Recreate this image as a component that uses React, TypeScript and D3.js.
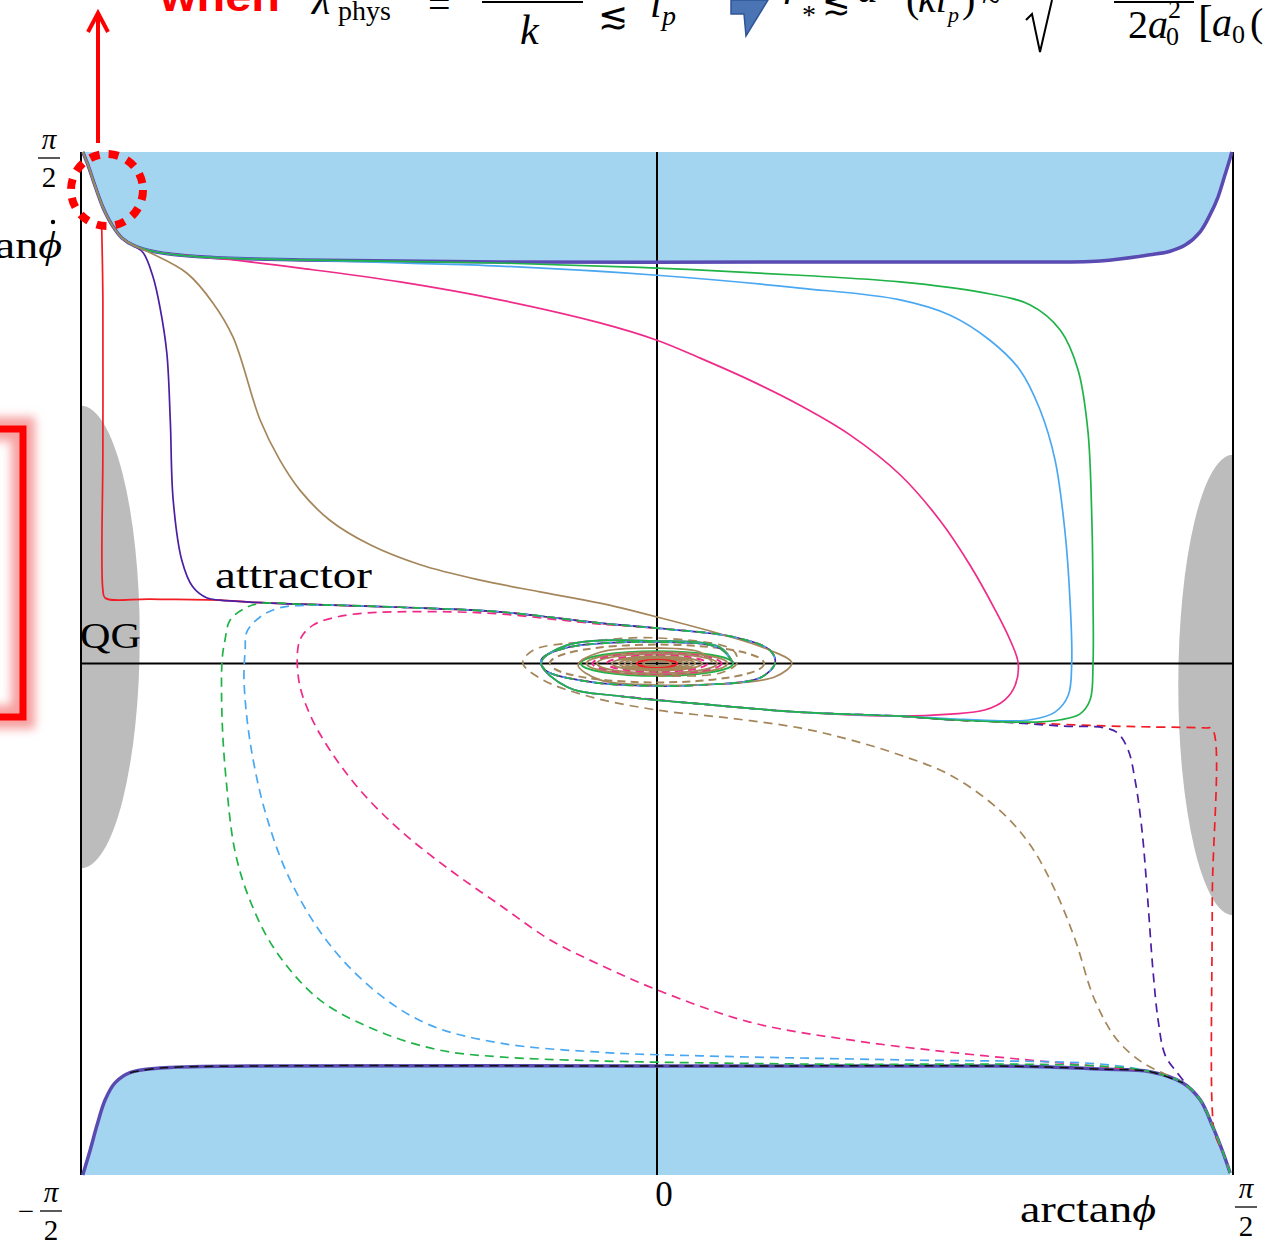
import React, { useEffect, useRef } from 'react'
import * as d3 from 'd3'

type Pt = [number, number]

// phase plane: x = arctan(phi), y = arctan(dphi), both in units of pi/2
const tickValues = [-1, 0, 1]

// boundary of the shaded (blue) regions
const topEdge: Pt[] = [
  [-0.997, 1.0], [-0.988, 0.975], [-0.976, 0.935], [-0.962, 0.892], [-0.946, 0.857],
  [-0.929, 0.832], [-0.906, 0.816], [-0.872, 0.805], [-0.793, 0.795], [-0.62, 0.789],
  [-0.273, 0.785], [0.248, 0.785], [0.595, 0.785], [0.769, 0.787], [0.856, 0.799],
  [0.891, 0.806], [0.917, 0.818], [0.943, 0.844], [0.96, 0.877], [0.974, 0.912],
  [0.986, 0.955], [0.995, 0.988], [0.998, 1.0]
]
const bottomEdge: Pt[] = [
  [-0.997, -1.0], [-0.984, -0.951], [-0.972, -0.902], [-0.958, -0.853], [-0.941, -0.82],
  [-0.915, -0.8], [-0.863, -0.791], [-0.707, -0.787], [0, -0.787], [0.595, -0.787],
  [0.682, -0.789], [0.769, -0.793], [0.856, -0.798], [0.913, -0.82], [0.943, -0.853],
  [0.965, -0.906], [0.983, -0.957], [0.995, -0.996]
]

// shared pieces of the trajectories
const attractor: Pt[] = [
  [-0.707, 0.12], [-0.62, 0.116], [-0.446, 0.11], [-0.273, 0.101], [-0.099, 0.079],
  [0, 0.069], [0.132, 0.052], [0.196, 0.026], [0.205, 0.001], [0.179, -0.028],
  [0.075, -0.042], [0, -0.044], [-0.116, -0.036], [-0.194, -0.013], [-0.201, 0.007],
  [-0.16, 0.03], [0, 0.042], [0.109, 0.03], [0.132, 0.001]
]
const lowerBundle: Pt[] = [
  [0.422, -0.103], [0.248, -0.095], [0.075, -0.079], [-0.064, -0.064], [-0.156, -0.046],
  [-0.201, 0.001], [-0.156, 0.036], [0, 0.044], [0.109, 0.032], [0.132, 0.001]
]
const bottomCorner: Pt[] = [[0.995, -0.996], [0.983, -0.957], [0.965, -0.906], [0.943, -0.853]]

// solid trajectories (from the upper left)
const redSolid: Pt[] = [
  [-0.964, 0.851], [-0.962, 0.711], [-0.962, 0.417], [-0.962, 0.144], [-0.958, 0.128],
  [-0.88, 0.126], [-0.759, 0.124], ...attractor.slice(0, 6)
]
const purpleSolid: Pt[] = [
  ...topEdge.slice(0, 6), [-0.91, 0.818], [-0.892, 0.803], [-0.875, 0.756], [-0.863, 0.697],
  [-0.851, 0.607], [-0.845, 0.476], [-0.84, 0.32], [-0.825, 0.202], [-0.806, 0.15],
  [-0.781, 0.128], [-0.759, 0.124], ...attractor
]
const brownSolid: Pt[] = [
  ...topEdge.slice(0, 7), [-0.88, 0.803], [-0.816, 0.763], [-0.771, 0.705], [-0.736, 0.638],
  [-0.689, 0.476], [-0.655, 0.398], [-0.62, 0.339], [-0.568, 0.28], [-0.498, 0.232],
  [-0.411, 0.193], [-0.307, 0.163], [-0.203, 0.14], [-0.099, 0.118], [0, 0.091],
  [0.109, 0.058], [0.196, 0.026], [0.234, 0.001], [0.205, -0.026], [0.109, -0.04],
  [0, -0.042], [-0.099, -0.032], [-0.137, -0.003], [-0.099, 0.022], [0, 0.03],
  [0.075, 0.022], [0.097, 0.001]
]
const pinkSolid: Pt[] = [
  ...topEdge.slice(0, 9), [-0.736, 0.789], [-0.62, 0.773], [-0.446, 0.746], [-0.273, 0.711],
  [-0.099, 0.666], [0, 0.632], [0.075, 0.597], [0.161, 0.554], [0.248, 0.505],
  [0.335, 0.447], [0.422, 0.369], [0.491, 0.28], [0.543, 0.193], [0.587, 0.105],
  [0.613, 0.046], [0.627, 0.001], [0.622, -0.042], [0.604, -0.071], [0.569, -0.091],
  [0.509, -0.099], ...lowerBundle
]
const blueSolid: Pt[] = [
  ...topEdge.slice(0, 10), [-0.446, 0.783], [-0.273, 0.777], [0, 0.759], [0.248, 0.734],
  [0.422, 0.711], [0.509, 0.681], [0.578, 0.632], [0.63, 0.574], [0.665, 0.496],
  [0.691, 0.398], [0.708, 0.261], [0.717, 0.124], [0.72, 0.001], [0.714, -0.062],
  [0.691, -0.095], [0.648, -0.11], [0.595, -0.112], [0.509, -0.108], ...lowerBundle
]
const greenSolid: Pt[] = [
  ...topEdge.slice(0, 10), [-0.273, 0.783], [0, 0.773], [0.248, 0.759], [0.422, 0.746],
  [0.561, 0.726], [0.648, 0.701], [0.7, 0.652], [0.731, 0.574], [0.748, 0.456],
  [0.755, 0.28], [0.757, 0.124], [0.757, 0.001], [0.752, -0.071], [0.734, -0.099],
  [0.7, -0.11], [0.665, -0.114], [0.595, -0.114], [0.509, -0.11], ...lowerBundle
]

// dashed trajectories (from the lower right)
const redDashed: Pt[] = [
  [0.995, -0.996], [0.983, -0.957], [0.969, -0.922], [0.964, -0.873], [0.964, -0.462],
  [0.964, -0.128], [0.951, -0.126], [0.856, -0.124], [0.778, -0.122], [0.682, -0.118],
  [0.595, -0.114], [0.509, -0.11], ...lowerBundle.slice(0, 4)
]
const purpleDashed: Pt[] = [
  ...bottomCorner, [0.925, -0.83], [0.903, -0.8], [0.882, -0.765], [0.87, -0.697],
  [0.861, -0.599], [0.852, -0.462], [0.842, -0.326], [0.83, -0.228], [0.818, -0.169],
  [0.8, -0.136], [0.778, -0.126], [0.7, -0.122], [0.595, -0.114], [0.509, -0.11],
  ...lowerBundle.slice(0, 4)
]
const brownDashed: Pt[] = [
  ...bottomCorner, [0.913, -0.82], [0.885, -0.804], [0.844, -0.781], [0.799, -0.736],
  [0.76, -0.658], [0.726, -0.54], [0.691, -0.443], [0.648, -0.355], [0.595, -0.287],
  [0.509, -0.218], [0.422, -0.179], [0.335, -0.149], [0.248, -0.126], [0.127, -0.107],
  [0, -0.091], [-0.116, -0.065], [-0.198, -0.032], [-0.233, 0.001], [-0.215, 0.026],
  [-0.128, 0.042], [0, 0.05], [0.132, 0.026], [0.139, 0.001], [0.109, -0.019], [0, -0.024]
]
const pinkDashed: Pt[] = [
  ...bottomCorner, [0.913, -0.82], [0.856, -0.798], [0.799, -0.791], [0.682, -0.779],
  [0.509, -0.76], [0.335, -0.736], [0.161, -0.701], [0, -0.638], [-0.099, -0.589],
  [-0.186, -0.54], [-0.273, -0.472], [-0.359, -0.404], [-0.446, -0.326], [-0.516, -0.247],
  [-0.568, -0.169], [-0.602, -0.101], [-0.622, -0.032], [-0.62, 0.046], [-0.597, 0.075],
  [-0.556, 0.091], [-0.503, 0.099], [-0.451, 0.101], [-0.359, 0.101], [-0.273, 0.097],
  [-0.168, 0.085], [-0.099, 0.077], ...attractor.slice(5)
]
const blueDashed: Pt[] = [
  ...bottomCorner, [0.913, -0.82], [0.856, -0.798], [0.769, -0.783], [0.422, -0.775],
  [0.075, -0.767], [-0.099, -0.76], [-0.273, -0.742], [-0.394, -0.707], [-0.481, -0.648],
  [-0.568, -0.55], [-0.637, -0.423], [-0.681, -0.287], [-0.707, -0.149], [-0.717, -0.032],
  [-0.715, 0.026], [-0.712, 0.062], [-0.689, 0.091], [-0.655, 0.109], [-0.597, 0.114],
  ...attractor.slice(2)
]
const greenDashed: Pt[] = [
  ...bottomCorner, [0.913, -0.82], [0.856, -0.798], [0.769, -0.787], [0.248, -0.783],
  [-0.099, -0.777], [-0.273, -0.769], [-0.377, -0.756], [-0.481, -0.72], [-0.585, -0.658],
  [-0.663, -0.56], [-0.707, -0.462], [-0.733, -0.365], [-0.748, -0.228], [-0.755, -0.11],
  [-0.755, 0.007], [-0.75, 0.046], [-0.741, 0.085], [-0.712, 0.11], [-0.684, 0.118],
  ...attractor.slice(1)
]

const C = {
  red: '#f21c24',
  purple: '#4b1ea3',
  brown: '#a4865a',
  pink: '#ef2a88',
  blue: '#4aa8f2',
  green: '#1fb347',
  fill: '#a4d5f0',
  edge: '#5a4bb3',
  grey: '#bcbcbc'
}

// drawing order: later entries lie on top
const trajectories = [
  { pts: redSolid, color: C.red, dashed: false },
  { pts: purpleSolid, color: C.purple, dashed: false },
  { pts: redDashed, color: C.red, dashed: true },
  { pts: purpleDashed, color: C.purple, dashed: true },
  { pts: brownDashed, color: C.brown, dashed: true },
  { pts: pinkSolid, color: C.pink, dashed: false },
  { pts: blueSolid, color: C.blue, dashed: false },
  { pts: greenSolid, color: C.green, dashed: false },
  { pts: brownSolid, color: C.brown, dashed: false },
  { pts: pinkDashed, color: C.pink, dashed: true },
  { pts: blueDashed, color: C.blue, dashed: true },
  { pts: greenDashed, color: C.green, dashed: true }
]

// loops of the spiral around the fixed point at the origin
const spiralRings = [
  { rx: 0.186, ry: 0.037, color: C.brown, dashed: true },
  { rx: 0.132, ry: 0.024, color: C.green, dashed: false },
  { rx: 0.122, ry: 0.022, color: C.brown, dashed: false },
  { rx: 0.112, ry: 0.02, color: C.pink, dashed: true },
  { rx: 0.104, ry: 0.019, color: C.brown, dashed: false },
  { rx: 0.087, ry: 0.016, color: C.pink, dashed: true },
  { rx: 0.078, ry: 0.014, color: C.brown, dashed: false },
  { rx: 0.066, ry: 0.012, color: C.brown, dashed: false },
  { rx: 0.056, ry: 0.01, color: C.brown, dashed: false },
  { rx: 0.045, ry: 0.009, color: C.brown, dashed: false },
  { rx: 0.035, ry: 0.007, color: C.red, dashed: false },
  { rx: 0.024, ry: 0.005, color: C.brown, dashed: false }
]

// quantum gravity regions (grey)
const qgRegions = [
  { cx: -1, cy: 0.052, rx: 0.102, ry: 0.452 },
  { cx: 1, cy: -0.042, rx: 0.095, ry: 0.45 }
]

const App: React.FC = () => {
  const svgRef = useRef<SVGSVGElement>(null)

  useEffect(() => {
    const svg = d3.select(svgRef.current)
    svg.selectAll('*').remove()

    const x = d3.scaleLinear().domain([-1, 1]).range([81, 1233])
    const y = d3.scaleLinear().domain([-1, 1]).range([1175, 152])
    const serif = "'Liberation Serif', 'DejaVu Serif', serif"

    const defs = svg.append('defs')
    defs.append('clipPath').attr('id', 'plot')
      .append('rect')
      .attr('x', x(-1)).attr('y', y(1))
      .attr('width', x(1) - x(-1)).attr('height', y(-1) - y(1))
    const glow = defs.append('filter').attr('id', 'glow')
      .attr('x', '-50%').attr('y', '-50%').attr('width', '200%').attr('height', '200%')
    glow.append('feGaussianBlur').attr('stdDeviation', 5)

    const line = d3.line<Pt>()
      .x(d => x(d[0]))
      .y(d => y(d[1]))
      .curve(d3.curveCatmullRom.alpha(0.5))

    // blue regions
    const topArea = d3.area<Pt>()
      .x(d => x(d[0])).y0(() => y(1)).y1(d => y(d[1]))
      .curve(d3.curveCatmullRom.alpha(0.5))
    const bottomArea = d3.area<Pt>()
      .x(d => x(d[0])).y0(() => y(-1)).y1(d => y(d[1]))
      .curve(d3.curveCatmullRom.alpha(0.5))
    svg.append('path').attr('d', topArea(topEdge)).attr('fill', C.fill)
    svg.append('path').attr('d', bottomArea(bottomEdge)).attr('fill', C.fill)

    // grey QG regions
    svg.append('g').attr('clip-path', 'url(#plot)')
      .selectAll('ellipse')
      .data(qgRegions)
      .enter()
      .append('ellipse')
      .attr('cx', d => x(d.cx))
      .attr('cy', d => y(d.cy))
      .attr('rx', d => x(d.rx) - x(0))
      .attr('ry', d => y(0) - y(d.ry))
      .attr('fill', C.grey)

    // axes
    const axes = svg.append('g').attr('stroke', '#000').attr('stroke-width', 2)
    tickValues.forEach(v => {
      axes.append('line')
        .attr('x1', x(v)).attr('x2', x(v))
        .attr('y1', y(1)).attr('y2', y(-1))
    })
    axes.append('line')
      .attr('x1', x(-1)).attr('x2', x(1))
      .attr('y1', y(0)).attr('y2', y(0))

    // boundary curves
    svg.append('path').attr('d', line(topEdge))
      .attr('fill', 'none').attr('stroke', C.edge).attr('stroke-width', 3.5)
    svg.append('path').attr('d', line(bottomEdge))
      .attr('fill', 'none').attr('stroke', C.edge).attr('stroke-width', 3.5)

    // spiral
    svg.append('g')
      .selectAll('ellipse')
      .data(spiralRings)
      .enter()
      .append('ellipse')
      .attr('cx', x(0))
      .attr('cy', y(0))
      .attr('rx', d => x(d.rx) - x(0))
      .attr('ry', d => y(0) - y(d.ry))
      .attr('fill', 'none')
      .attr('stroke', d => d.color)
      .attr('stroke-width', 2)
      .attr('stroke-dasharray', d => (d.dashed ? '8,5' : null))

    // trajectories
    svg.append('g')
      .selectAll('path')
      .data(trajectories)
      .enter()
      .append('path')
      .attr('d', d => line(d.pts))
      .attr('fill', 'none')
      .attr('stroke', d => d.color)
      .attr('stroke-width', 1.7)
      .attr('stroke-dasharray', d => (d.dashed ? '9,6' : null))

    svg.append('path').attr('d', line(bottomEdge.slice(5, 14)))
      .attr('fill', 'none').attr('stroke', '#111').attr('stroke-width', 1.5)
      .attr('stroke-dasharray', '9,6')

    // axis labels
    const frac = (cx: number, top: number, sign: boolean) => {
      const g = svg.append('g').attr('font-family', serif).attr('font-size', 29)
        .attr('text-anchor', 'middle')
      g.append('text').attr('x', cx).attr('y', top).attr('font-style', 'italic').text('π')
      g.append('line').attr('x1', cx - 11).attr('x2', cx + 11)
        .attr('y1', top + 9).attr('y2', top + 9).attr('stroke', '#000').attr('stroke-width', 1.3)
      g.append('text').attr('x', cx).attr('y', top + 38).text('2')
      if (sign) g.append('text').attr('x', cx - 25).attr('y', top + 19).text('−')
    }
    frac(x(-1) - 32, y(1) - 3, false)
    frac(x(-1) - 30, y(-1) + 27, true)
    frac(x(1) + 13, y(-1) + 23, false)

    svg.append('text')
      .attr('x', x(0) + 7).attr('y', y(-1) + 31)
      .attr('text-anchor', 'middle')
      .attr('font-family', serif).attr('font-size', 35)
      .text('0')

    svg.append('text')
      .attr('x', 1020).attr('y', y(-1) + 47)
      .attr('font-family', serif).attr('font-size', 38)
      .attr('textLength', 136).attr('lengthAdjust', 'spacingAndGlyphs')
      .text('arctan')
      .append('tspan').attr('font-style', 'italic').text('ϕ')

    // vertical axis title, cut by the left edge of the slide
    svg.append('text')
      .attr('x', -74).attr('y', 258)
      .attr('font-family', serif).attr('font-size', 38)
      .attr('textLength', 136).attr('lengthAdjust', 'spacingAndGlyphs')
      .text('arctan')
      .append('tspan').attr('font-style', 'italic').text('ϕ')
    svg.append('circle')
      .attr('cx', 53).attr('cy', 222).attr('r', 2.2).attr('fill', '#000')

    svg.append('text')
      .attr('x', 80).attr('y', 648)
      .attr('font-family', serif).attr('font-size', 35)
      .attr('textLength', 61).attr('lengthAdjust', 'spacingAndGlyphs')
      .text('QG')

    svg.append('text')
      .attr('x', 215).attr('y', 588)
      .attr('font-family', serif).attr('font-size', 37)
      .attr('textLength', 157).attr('lengthAdjust', 'spacingAndGlyphs')
      .text('attractor')

    // slide annotations
    svg.append('rect')
      .attr('x', -60).attr('y', 429).attr('width', 83).attr('height', 288)
      .attr('fill', 'none').attr('stroke', '#f7a0a0').attr('stroke-width', 24)
      .attr('filter', 'url(#glow)')
    svg.append('rect')
      .attr('x', -60).attr('y', 429).attr('width', 83).attr('height', 288)
      .attr('fill', 'none').attr('stroke', '#ff0000').attr('stroke-width', 7)

    svg.append('circle')
      .attr('cx', 107).attr('cy', 190).attr('r', 36)
      .attr('fill', 'none').attr('stroke', '#ff0000').attr('stroke-width', 8)
      .attr('stroke-dasharray', '10,9')

    svg.append('line')
      .attr('x1', 98).attr('x2', 98).attr('y1', 143).attr('y2', 14)
      .attr('stroke', '#ff0000').attr('stroke-width', 4)
    svg.append('polyline')
      .attr('points', '88,32 98,13 108,32')
      .attr('fill', 'none').attr('stroke', '#ff0000').attr('stroke-width', 4)

    svg.append('polygon')
      .attr('points', '731,0 768,0 746,36 744,14 731,14')
      .attr('fill', '#4a74b4').attr('stroke', '#2f5597').attr('stroke-width', 1.5)

    // partially visible formula at the top of the slide
    svg.append('text')
      .attr('x', 160).attr('y', 11)
      .attr('font-family', "'Liberation Sans', Arial, sans-serif")
      .attr('font-weight', 'bold').attr('font-size', 42).attr('fill', '#ff0000')
      .attr('textLength', 120).attr('lengthAdjust', 'spacingAndGlyphs')
      .text('when')

    const formula = [
      { t: 'λ', x: 312, y: 14, size: 42, italic: true },
      { t: 'phys', x: 338, y: 20, size: 28, italic: false },
      { t: '=', x: 428, y: 18, size: 40, italic: false },
      { t: 'k', x: 520, y: 44, size: 42, italic: true },
      { t: '≲', x: 598, y: 28, size: 36, italic: false },
      { t: 'l', x: 650, y: 17, size: 42, italic: true },
      { t: 'p', x: 662, y: 25, size: 28, italic: true },
      { t: 'r', x: 783, y: 4, size: 42, italic: true },
      { t: '*', x: 802, y: 24, size: 28, italic: false },
      { t: '≲', x: 822, y: 14, size: 34, italic: false },
      { t: 'a', x: 857, y: 2, size: 42, italic: true },
      { t: '(', x: 906, y: 12, size: 40, italic: false },
      { t: 'kl', x: 918, y: 12, size: 40, italic: true },
      { t: 'p', x: 948, y: 22, size: 22, italic: true },
      { t: ')', x: 962, y: 12, size: 40, italic: false },
      { t: '≈', x: 982, y: 8, size: 34, italic: false },
      { t: '2', x: 1128, y: 38, size: 40, italic: false },
      { t: 'a', x: 1148, y: 38, size: 40, italic: true },
      { t: '0', x: 1166, y: 45, size: 26, italic: false },
      { t: '2', x: 1168, y: 18, size: 26, italic: false },
      { t: '[', x: 1198, y: 36, size: 44, italic: false },
      { t: 'a', x: 1212, y: 36, size: 40, italic: true },
      { t: '0', x: 1232, y: 43, size: 26, italic: false },
      { t: '(', x: 1250, y: 36, size: 40, italic: false }
    ]
    svg.append('g')
      .attr('font-family', serif)
      .selectAll('text')
      .data(formula)
      .enter()
      .append('text')
      .attr('x', d => d.x).attr('y', d => d.y)
      .attr('font-size', d => d.size)
      .attr('font-style', d => (d.italic ? 'italic' : 'normal'))
      .text(d => d.t)

    svg.append('line')
      .attr('x1', 482).attr('x2', 583).attr('y1', 2).attr('y2', 2)
      .attr('stroke', '#000').attr('stroke-width', 2)
    svg.append('line')
      .attr('x1', 1114).attr('x2', 1194).attr('y1', 2).attr('y2', 2)
      .attr('stroke', '#000').attr('stroke-width', 2)
    svg.append('polyline')
      .attr('points', '1026,20 1032,14 1040,52 1052,0')
      .attr('fill', 'none').attr('stroke', '#000').attr('stroke-width', 2)
  }, [])

  return (
    <svg
      ref={svgRef}
      width={1268}
      height={1246}
      style={{ position: 'absolute', left: 0, top: 0, display: 'block', background: '#fff' }}
    />
  )
}

export default App
